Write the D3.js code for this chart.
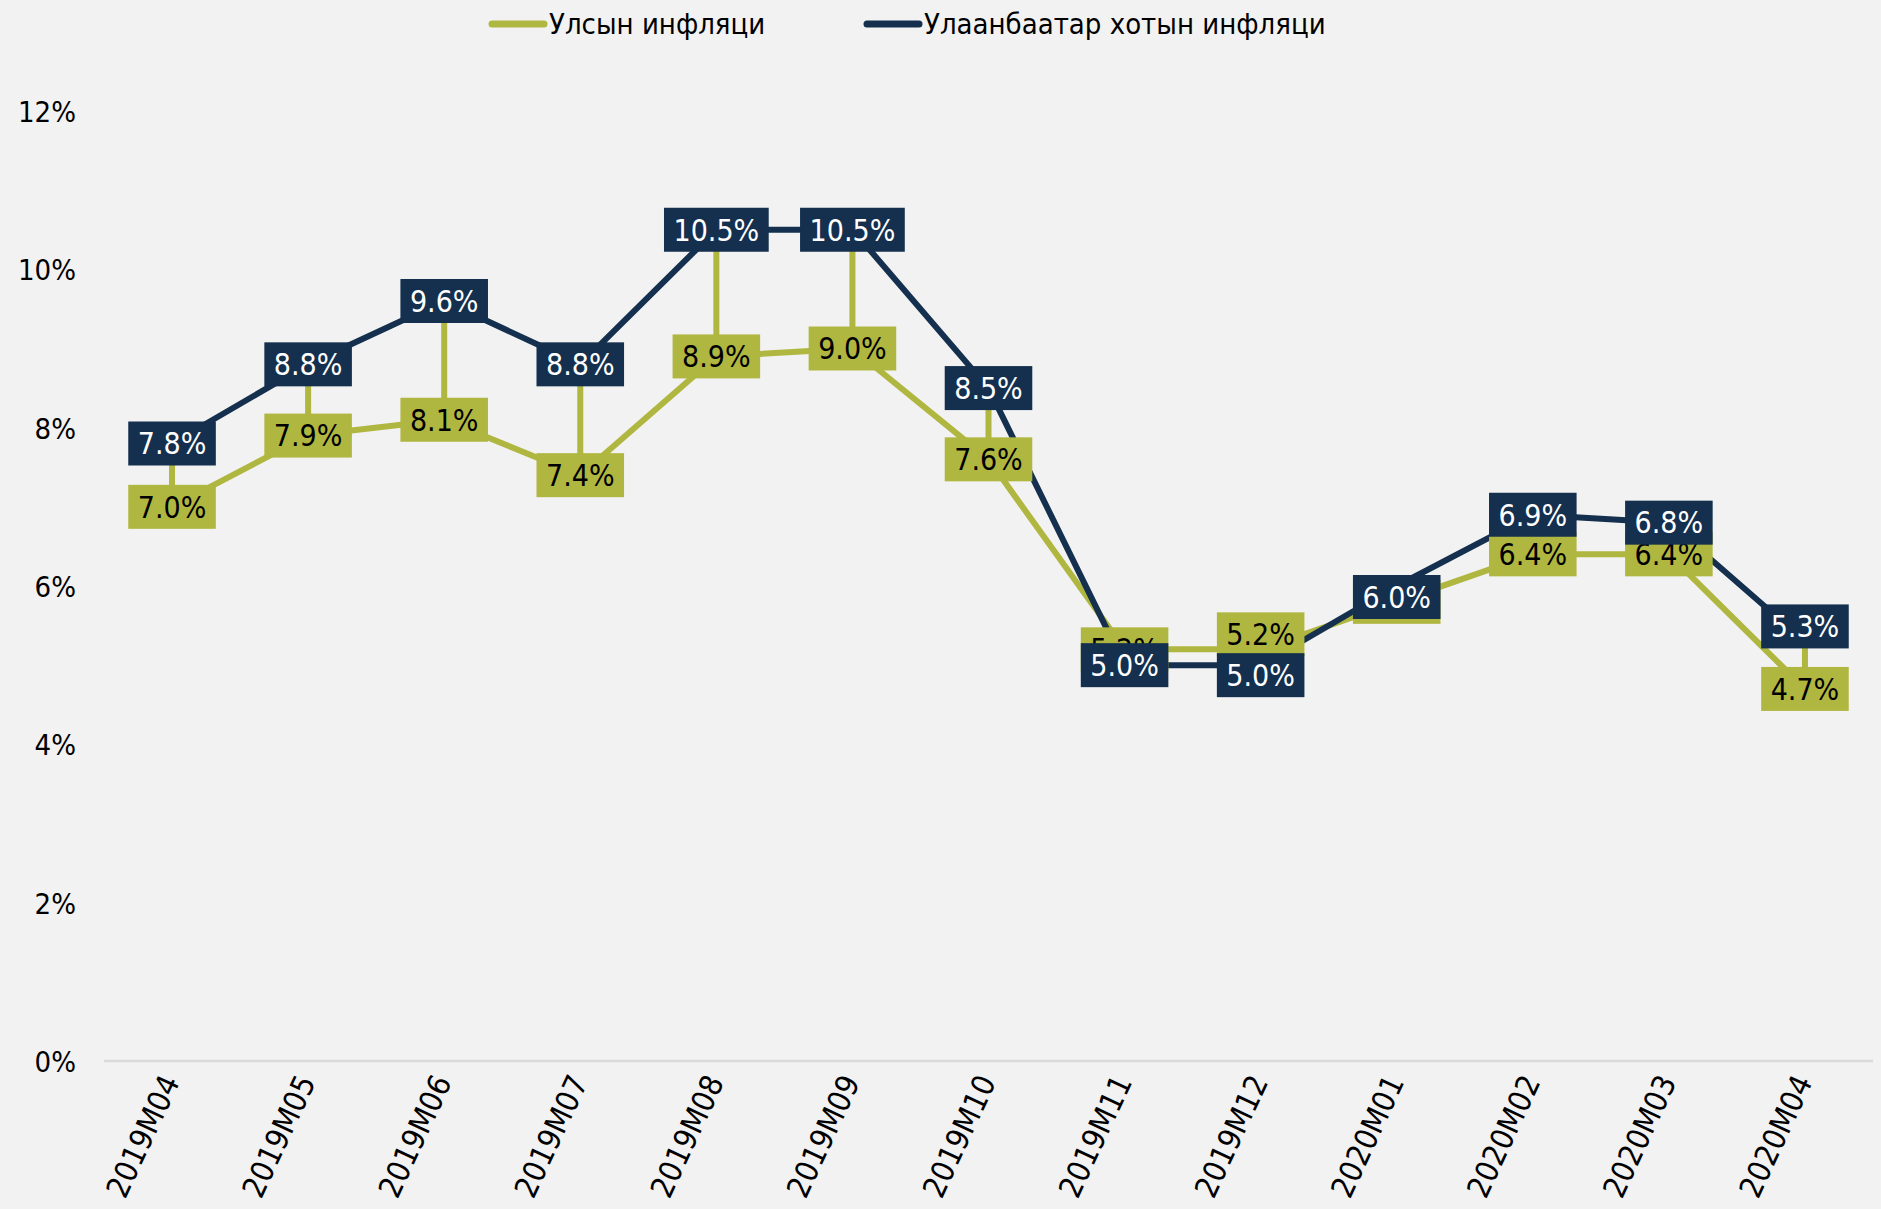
<!DOCTYPE html>
<html>
<head>
<meta charset="utf-8">
<script src="https://cdn.jsdelivr.net/npm/d3@7"></script>
<style>
  body { margin: 0; background: #f2f2f2; }
  svg { display: block; }
  text { font-family: "DejaVu Sans Condensed", "DejaVu Sans", sans-serif; }
</style>
</head>
<body>
<div id="chart"></div>
<script>
// months on the x axis
var months = ["2019M04", "2019M05", "2019M06", "2019M07", "2019M08", "2019M09", "2019M10",
  "2019M11", "2019M12", "2020M01", "2020M02", "2020M03", "2020M04"];

// national inflation (Улсын инфляци), %
var national = [7.0, 7.9, 8.1, 7.4, 8.9, 9.0, 7.6, 5.2, 5.2, 5.8, 6.4, 6.4, 4.7];

// Ulaanbaatar inflation (Улаанбаатар хотын инфляци), %
var ulaanbaatar = [7.8, 8.8, 9.6, 8.8, 10.5, 10.5, 8.5, 5.0, 5.0, 6.0, 6.9, 6.8, 5.3];

var yTicks = [0, 2, 4, 6, 8, 10, 12];

var seriesNames = ["Улсын инфляци", "Улаанбаатар хотын инфляци"];

var width = 1881,
    height = 1209,
    margin = {top: 111, bottom: 148, left: 104, right: 8};

var green = "#b0b740",
    navy = "#14304e";

// a few labels were dragged by hand in the original to avoid overlaps (px)
var labelNudge = {
  national: {"2019M12": -15},
  ulaanbaatar: {"2019M12": 10, "2020M01": 11, "2020M04": -15}
};

var svg = d3.select("#chart").append("svg")
  .attr("width", width)
  .attr("height", height)
  .style("background", "#f2f2f2");

var x = d3.scalePoint()
  .domain(months)
  .range([margin.left, width - margin.right])
  .padding(0.5);

var y = d3.scaleLinear()
  .domain([0, 12])
  .range([height - margin.bottom, margin.top]);

// y axis labels (no axis line)
var yAxis = d3.axisLeft(y)
  .tickValues(yTicks)
  .tickSize(0)
  .tickPadding(0)
  .tickFormat(function(d){ return d + "%"; });

svg.append("g")
  .attr("transform", "translate(76,0)")
  .call(yAxis)
  .call(function(g){ g.select(".domain").remove(); })
  .selectAll("text")
  .attr("font-family", "DejaVu Sans Condensed")
  .attr("font-size", 29)
  .attr("fill", "#000")
  .attr("dy", "0.36em");

// baseline
svg.append("line")
  .attr("x1", margin.left)
  .attr("x2", width - margin.right)
  .attr("y1", y(0))
  .attr("y2", y(0))
  .style("stroke", "#d9d9d9")
  .style("stroke-width", 2.5);

// x labels, rotated
svg.append("g").selectAll("text")
  .data(months)
  .enter()
  .append("text")
  .attr("transform", function(d){
    return "translate(" + (x(d) - 2) + "," + (y(0) + 16) + ") rotate(-65)";
  })
  .attr("text-anchor", "end")
  .attr("dy", "0.36em")
  .attr("font-size", 31)
  .attr("fill", "#000")
  .text(function(d){ return d; });

// high-low lines between the two series
svg.append("g").selectAll("line")
  .data(months)
  .enter()
  .append("line")
  .attr("x1", function(d){ return x(d); })
  .attr("x2", function(d){ return x(d); })
  .attr("y1", function(d, i){ return y(national[i]); })
  .attr("y2", function(d, i){ return y(ulaanbaatar[i]); })
  .style("stroke", green)
  .style("stroke-width", 6);

var line = d3.line()
  .x(function(d, i){ return x(months[i]); })
  .y(function(d){ return y(d); });

svg.append("path")
  .datum(national)
  .attr("d", line)
  .style("fill", "none")
  .style("stroke", green)
  .style("stroke-width", 6)
  .style("stroke-linejoin", "round");

svg.append("path")
  .datum(ulaanbaatar)
  .attr("d", line)
  .style("fill", "none")
  .style("stroke", navy)
  .style("stroke-width", 6)
  .style("stroke-linejoin", "round");

// data labels: boxes centred on each point
function addLabels(values, nudge, fill, textColor) {
  var g = svg.append("g").selectAll("g")
    .data(values)
    .enter()
    .append("g")
    .attr("transform", function(d, i){
      var dy = nudge[months[i]] || 0;
      return "translate(" + x(months[i]) + "," + (y(d) + dy) + ")";
    });

  g.append("rect").style("fill", fill);

  g.append("text")
    .attr("text-anchor", "middle")
    .attr("dy", "0.36em")
    .attr("font-size", 30)
    .attr("fill", textColor)
    .text(function(d){ return d.toFixed(1) + "%"; })
    .each(function(){
      var w = this.getComputedTextLength() + 19;
      d3.select(this.previousSibling)
        .attr("x", -w / 2)
        .attr("y", -22)
        .attr("width", w)
        .attr("height", 44);
    });
}

addLabels(national, labelNudge.national, green, "#000");
addLabels(ulaanbaatar, labelNudge.ulaanbaatar, navy, "#fff");

// legend
var legend = svg.append("g");
var legendItems = [
  {name: seriesNames[0], color: green, x0: 492},
  {name: seriesNames[1], color: navy, x0: 867}
];

legendItems.forEach(function(d){
  legend.append("line")
    .attr("x1", d.x0)
    .attr("x2", d.x0 + 52)
    .attr("y1", 24)
    .attr("y2", 24)
    .style("stroke", d.color)
    .style("stroke-width", 7)
    .style("stroke-linecap", "round");
  legend.append("text")
    .attr("x", d.x0 + 57)
    .attr("y", 24)
    .attr("dy", "0.36em")
    .attr("font-size", 29)
    .attr("fill", "#000")
    .text(d.name);
});
</script>
</body>
</html>
